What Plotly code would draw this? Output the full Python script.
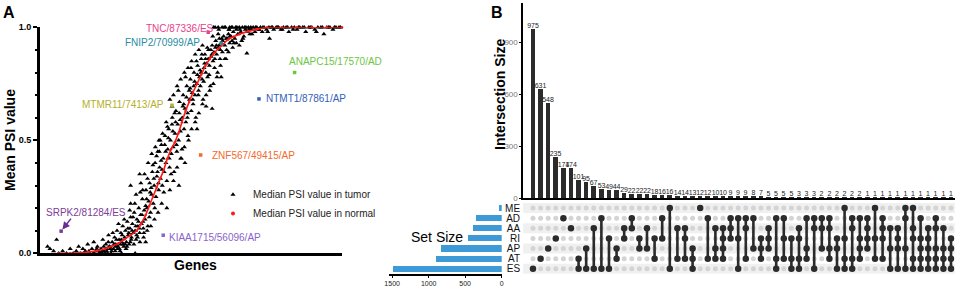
import plotly.graph_objects as go

W, H = 957, 286
FONT = "Arial, Liberation Sans, Helvetica, sans-serif"


def px(x):
    return x / W


def py(y):
    return 1 - y / H


# ---------------- Panel A data ----------------
tumor_gene = [
    25, 33, 45, 55, 62, 75, 88, 100, 110, 120,
    128, 135, 142, 150, 158, 165, 172, 178, 185, 190,
    196, 202, 208, 213, 218, 222, 227, 231, 235, 239,
    243, 247, 251, 255, 258, 262, 265, 268, 271, 274,
    277, 280, 283, 286, 289, 292, 295, 298, 300, 303,
    306, 309, 312, 315, 318, 321, 324, 327, 330, 333,
    336, 339, 342, 345, 348, 351, 354, 357, 360, 363,
    366, 369, 372, 375, 378, 381, 384, 387, 390, 393,
    396, 399, 402, 405, 408, 411, 414, 417, 420, 423,
    426, 429, 432, 435, 438, 441, 444, 447, 450, 453,
    456, 459, 462, 465, 468, 471, 474, 477, 480, 483,
    486, 489, 492, 495, 498, 501, 504, 507, 510, 513,
    516, 519, 522, 525, 528, 531, 534, 537, 540, 543,
    546, 549, 552, 555, 558, 561, 564, 567, 570, 573,
    576, 579, 582, 585, 588, 591, 594, 597, 600, 604,
    608, 612, 616, 620, 624, 628, 632, 636, 640, 645,
    650, 655, 660, 665, 670, 675, 680, 685, 690, 695,
    700, 706, 712, 718, 724, 730, 736, 742, 750, 758,
    766, 774, 782, 790, 798, 806, 815, 824, 833, 842,
    851, 860, 870, 880, 890, 900, 910, 920, 930, 940,
    950, 960, 970, 980, 990,
    201, 211, 221, 226, 233, 241, 249, 253, 260, 266,
    272, 279, 285, 291, 297, 302, 308, 314, 320, 326,
    332, 338, 344, 350, 356, 362, 368, 374, 380, 386,
    392, 398, 404, 410, 416, 422, 428, 434, 440, 446,
    452, 458, 464, 470, 476, 482, 488, 494, 500, 506,
    512, 518, 524, 530, 536, 542, 548, 554, 560, 566,
    572, 578, 584, 590, 596, 602, 610, 618, 626, 634,
    642, 652, 662, 672, 682, 692, 702, 714, 726, 738,
    754, 770, 786, 802, 820, 838, 856, 875, 895, 915,
    935, 955, 975, 995,
    437, 570, 685, 590, 575, 628, 300, 330, 340, 395,
    420, 460, 520, 550, 600, 760, 270, 350, 315, 480,
    148, 162, 176, 188, 205, 216, 229, 245, 257, 269,
    282, 294, 305, 317, 329, 341, 353, 365, 377, 389,
    401, 413, 425, 437, 449, 461, 473, 485, 497, 509,
    521, 533, 545, 557, 569, 581, 593, 605, 617, 629,
    180, 193, 207, 219, 224, 237, 250, 263, 275, 288,
    299, 311, 323, 331, 343, 355, 367, 379, 391, 403,
    300, 318, 334, 346, 358, 370, 382, 394, 406, 418,
    430, 442, 454, 466, 478, 490, 502, 514, 526, 538,
    430, 442, 454, 466, 478, 490, 502, 514, 526, 538,
    550, 562, 574, 586, 598, 612, 624, 638, 650, 668,
    580, 592, 603, 614, 626, 637, 648, 660, 678, 698,
]
tumor_psi = [
    0.03, 0.02, 0.01, 0.06, 0.00, 0.01, 0.00, 0.02, 0.00, 0.01,
    0.03, 0.00, 0.02, 0.01, 0.04, 0.00, 0.02, 0.05, 0.01, 0.03,
    0.00, 0.02, 0.06, 0.01, 0.04, 0.02, 0.08, 0.03, 0.00, 0.05,
    0.02, 0.07, 0.04, 0.10, 0.03, 0.06, 0.01, 0.09, 0.05, 0.12,
    0.03, 0.07, 0.10, 0.05, 0.14, 0.08, 0.04, 0.11, 0.16, 0.07,
    0.13, 0.09, 0.18, 0.10, 0.06, 0.15, 0.12, 0.20, 0.09, 0.17,
    0.13, 0.24, 0.11, 0.19, 0.15, 0.28, 0.20, 0.12, 0.23, 0.31,
    0.18, 0.26, 0.36, 0.22, 0.30, 0.40, 0.25, 0.34, 0.45, 0.28,
    0.38, 0.33, 0.48, 0.30, 0.42, 0.36, 0.52, 0.40, 0.32, 0.46,
    0.55, 0.38, 0.50, 0.44, 0.60, 0.47, 0.36, 0.53, 0.63, 0.45,
    0.57, 0.50, 0.67, 0.54, 0.42, 0.60, 0.70, 0.55, 0.64, 0.58,
    0.74, 0.62, 0.50, 0.68, 0.77, 0.63, 0.71, 0.66, 0.80, 0.70,
    0.60, 0.75, 0.83, 0.72, 0.78, 0.74, 0.86, 0.77, 0.68, 0.82,
    0.88, 0.80, 0.84, 0.78, 0.90, 0.83, 0.74, 0.87, 0.92, 0.85,
    0.89, 0.86, 0.94, 0.88, 0.80, 0.91, 0.95, 0.90, 0.93, 0.89,
    0.96, 0.92, 0.86, 0.95, 0.97, 0.93, 0.96, 0.94, 0.98, 0.95,
    0.99, 0.97, 0.92, 0.98, 1.00, 0.96, 0.99, 0.98, 1.00, 0.97,
    0.99, 1.00, 0.98, 1.00, 0.99, 1.00, 0.98, 1.00, 0.99, 1.00,
    1.00, 0.99, 1.00, 1.00, 0.99, 1.00, 1.00, 0.98, 1.00, 1.00,
    0.99, 1.00, 1.00, 0.98, 1.00, 1.00, 0.99, 1.00, 1.00, 0.97,
    1.00, 1.00, 0.99, 1.00, 1.00,
    0.00, 0.03, 0.01, 0.05, 0.02, 0.09, 0.01, 0.06, 0.13, 0.04,
    0.08, 0.15, 0.02, 0.11, 0.19, 0.06, 0.16, 0.22, 0.08, 0.14,
    0.27, 0.17, 0.09, 0.21, 0.33, 0.16, 0.29, 0.39, 0.20, 0.43,
    0.31, 0.50, 0.37, 0.27, 0.45, 0.56, 0.42, 0.35, 0.54, 0.62,
    0.48, 0.72, 0.59, 0.46, 0.66, 0.78, 0.60, 0.72, 0.82, 0.68,
    0.76, 0.85, 0.70, 0.81, 0.88, 0.76, 0.86, 0.91, 0.79, 0.90,
    0.96, 0.82, 0.92, 0.97, 0.86, 0.95, 1.00, 0.90, 0.99, 1.00,
    0.93, 1.00, 0.99, 0.95, 1.00, 0.99, 0.97, 1.00, 0.99, 1.00,
    0.98, 1.00, 1.00, 0.99, 1.00, 0.99, 1.00, 1.00, 1.00, 0.98,
    1.00, 1.00, 1.00, 1.00,
    0.65, 0.64, 0.885, 1.00, 1.00, 1.00, 0.30, 0.35, 0.28, 0.45,
    0.20, 0.30, 0.55, 0.65, 0.78, 0.95, 0.00, 0.05, 0.00, 0.40,
    0.00, 0.01, 0.00, 0.02, 0.01, 0.00, 0.03, 0.04, 0.02, 0.06,
    0.04, 0.09, 0.10, 0.12, 0.11, 0.14, 0.24, 0.27, 0.33, 0.36,
    0.41, 0.48, 0.51, 0.57, 0.58, 0.62, 0.65, 0.69, 0.73, 0.74,
    0.79, 0.80, 0.84, 0.86, 0.88, 0.91, 0.92, 0.94, 0.95, 0.96,
    0.00, 0.01, 0.00, 0.02, 0.00, 0.01, 0.03, 0.02, 0.04, 0.03,
    0.05, 0.04, 0.07, 0.05, 0.07, 0.10, 0.12, 0.15, 0.18, 0.22,
    0.22, 0.26, 0.31, 0.35, 0.40, 0.44, 0.47, 0.50, 0.53, 0.58,
    0.68, 0.70, 0.74, 0.77, 0.80, 0.82, 0.85, 0.88, 0.90, 0.92,
    0.28, 0.32, 0.38, 0.42, 0.47, 0.52, 0.55, 0.58, 0.62, 0.66,
    0.70, 0.72, 0.75, 0.78, 0.83, 0.86, 0.89, 0.91, 0.93, 0.94,
    1.00, 0.99, 1.00, 1.00, 0.99, 1.00, 1.00, 1.00, 1.00, 1.00,
]

normal_gene = [60, 100, 130, 160, 190, 215, 240, 260, 280, 300,
               320, 335, 350, 362, 374, 386, 398, 410, 422, 434,
               446, 458, 470, 482, 494, 506, 520, 534, 548, 562,
               576, 590, 606, 622, 640, 662, 690, 720, 752, 800,
               850, 900, 950, 1000]
normal_psi = [0.0, 0.0, 0.002, 0.006, 0.012, 0.02, 0.033, 0.045, 0.062, 0.08,
              0.10, 0.13, 0.17, 0.21, 0.25, 0.29, 0.33, 0.37, 0.42, 0.46,
              0.49, 0.53, 0.58, 0.63, 0.67, 0.71, 0.75, 0.79, 0.83, 0.86,
              0.885, 0.905, 0.925, 0.945, 0.958, 0.97, 0.982, 0.992, 1.0, 1.0,
              1.0, 1.0, 1.0, 1.0]

highlight_label = ["TNC/87336/ES", "FNIP2/70999/AP", "ANAPC15/17570/AD", "NTMT1/87861/AP",
                   "MTMR11/7413/AP", "ZNF567/49415/AP", "SRPK2/81284/ES", "KIAA1715/56096/AP"]
highlight_gene = [557, 600, 843, 725, 437, 532, 70, 408]
highlight_psi = [0.978, 0.93, 0.80, 0.683, 0.655, 0.435, 0.098, 0.08]
highlight_color = ["#e8418c", "#2a8ca3", "#6cc644", "#3560b8",
                   "#b5b02a", "#f26a2c", "#7d3c98", "#8b63c9"]
# label text centre positions (pixels)
label_px = [(180, 28), (162, 42), (335, 62), (306, 98),
            (123, 105), (254, 155), (86, 212), (215, 237)]

# ---------------- Panel B data ----------------
set_names = ["ME", "AD", "AA", "RI", "AP", "AT", "ES"]
set_sizes = [47, 356, 403, 471, 836, 900, 1490]

intersection_sizes = [975, 631, 548, 235, 174, 174, 101, 95, 67, 53,
                      49, 44, 29, 22, 22, 22, 18, 16, 16, 14,
                      14, 13, 12, 12, 10, 10, 9, 9, 9, 8,
                      7, 5, 5, 5, 5, 3, 3, 3, 2, 2,
                      2, 2, 2, 2, 1, 1, 1, 1, 1, 1,
                      1, 1, 1, 1, 1, 1]
combos = [
    ["ES"], ["AT"], ["AP"], ["RI"], ["AD"], ["AA"],
    ["AT", "ES"], ["AP", "ES"], ["AA", "ES"], ["AD", "ES"], ["RI", "ES"], ["AP", "AT"],
    ["AA", "RI"], ["AD", "AA"], ["RI", "AP"], ["AA", "AP"], ["RI", "AT"], ["AD", "RI"],
    ["ME", "ES"], ["AA", "AT"], ["AA", "RI", "AT"], ["AP", "AT", "ES"], ["ME"], ["AD", "AT"],
    ["AA", "AP", "AT"], ["AA", "RI", "AP", "AT"], ["AD", "AA", "RI"], ["AD", "RI", "ES"],
    ["AD", "AA", "AT"], ["AD", "AP"], ["RI", "AP", "AT"], ["AA", "RI", "AP"],
    ["AD", "AT", "ES"], ["AD", "RI", "AT"], ["RI", "AT", "ES"], ["AA", "RI", "AT", "ES"],
    ["AD", "AP", "AT"], ["AD", "AA", "ES"], ["AD", "AA", "AP"], ["AD", "AA", "AP", "AT"],
    ["RI", "AP", "ES"], ["ME", "RI", "AT", "ES"], ["AD", "AA", "AT", "ES"], ["AD", "RI", "AP", "AT"],
    ["AD", "AA", "RI", "AP"], ["ME", "RI", "AT"], ["AD", "AA", "RI", "AT"], ["AA", "AP", "ES"],
    ["AA", "RI", "AP", "ES"], ["ME", "AD", "AP", "ES"], ["ME", "AA", "RI", "AT", "ES"],
    ["AD", "RI", "AP", "AT", "ES"], ["AA", "RI", "AP", "AT", "ES"], ["AD", "AA", "AP", "AT", "ES"],
    ["AA", "AP", "AT", "ES"], ["RI", "AP", "AT", "ES"],
]

# ---------------- derived ----------------
n_sets = len(set_names)
row_of = {name: n_sets - 1 - i for i, name in enumerate(set_names)}
cols = list(range(1, len(intersection_sizes) + 1))

grid_x, grid_y = [], []
for c in cols:
    for r in range(n_sets):
        grid_x.append(c)
        grid_y.append(r)

mem_x, mem_y, line_x, line_y = [], [], [], []
for c, combo in zip(cols, combos):
    rows = [row_of[s] for s in combo]
    for r in rows:
        mem_x.append(c)
        mem_y.append(r)
    if len(rows) > 1:
        line_x += [c, c, None]
        line_y += [min(rows), max(rows), None]

fig = go.Figure()

# Panel A traces
fig.add_trace(go.Scatter(
    x=tumor_gene, y=tumor_psi, mode="markers", name="Median PSI value in tumor",
    marker=dict(symbol="triangle-up", size=4.5, color="black"),
    xaxis="x", yaxis="y", cliponaxis=False))
fig.add_trace(go.Scatter(
    x=normal_gene, y=normal_psi, mode="lines+markers", showlegend=False,
    line=dict(color="#ff1a1a", width=1.6, shape="spline"),
    marker=dict(size=2.5, color="#ff1a1a"),
    xaxis="x", yaxis="y", cliponaxis=False))
fig.add_trace(go.Scatter(
    x=[None], y=[None], mode="markers", name="Median PSI value in normal",
    marker=dict(symbol="circle", size=4, color="#ff1a1a"), xaxis="x", yaxis="y"))
fig.add_trace(go.Scatter(
    x=highlight_gene, y=highlight_psi, mode="markers", showlegend=False,
    marker=dict(symbol="square", size=3.5, color=highlight_color),
    xaxis="x", yaxis="y", cliponaxis=False))

# Panel B traces
fig.add_trace(go.Bar(
    x=cols, y=intersection_sizes, text=[str(v) for v in intersection_sizes],
    textposition="outside", textangle=0, constraintext="none",
    textfont=dict(size=7, color="#222", family=FONT),
    marker=dict(color="#2b2b2b", line=dict(width=0)), width=0.62,
    showlegend=False, xaxis="x2", yaxis="y2", cliponaxis=False))
fig.add_trace(go.Scatter(
    x=grid_x, y=grid_y, mode="markers", showlegend=False,
    marker=dict(size=5, color="#d4d4d4"), xaxis="x3", yaxis="y3", hoverinfo="skip"))
fig.add_trace(go.Scatter(
    x=line_x, y=line_y, mode="lines", showlegend=False,
    line=dict(color="#2b2b2b", width=2.6), xaxis="x3", yaxis="y3", hoverinfo="skip"))
fig.add_trace(go.Scatter(
    x=mem_x, y=mem_y, mode="markers", showlegend=False,
    marker=dict(size=6.5, color="#2b2b2b"), xaxis="x3", yaxis="y3"))
fig.add_trace(go.Bar(
    x=set_sizes, y=[row_of[s] for s in set_names], orientation="h",
    marker=dict(color="#3d9ad6", line=dict(width=0)), width=0.6,
    showlegend=False, xaxis="x4", yaxis="y4"))

# background stripes in matrix
shapes = []
for r in range(0, n_sets, 2):
    shapes.append(dict(type="rect", xref="x3 domain", yref="y3", x0=0, x1=1,
                       y0=r - 0.5, y1=r + 0.5, fillcolor="#f0f0f0",
                       line=dict(width=0), layer="below"))


def note(x, y, text, size, color="black", angle=0):
    return dict(xref="paper", yref="paper", x=px(x), y=py(y), text=text,
                showarrow=False, xanchor="center", yanchor="middle",
                textangle=angle, font=dict(size=size, color=color, family=FONT))


annotations = []
for lab, col, (lx, ly) in zip(highlight_label, highlight_color, label_px):
    annotations.append(note(lx, ly, lab, 10, col))
# arrow for SRPK2
annotations.append(dict(xref="x", yref="y", x=highlight_gene[6], y=highlight_psi[6],
                        ax=11, ay=-14, text="", showarrow=True, arrowhead=2,
                        arrowsize=1, arrowwidth=1.5, arrowcolor="#6a2c91", standoff=2))
annotations += [
    note(9, 13, "<b>A</b>", 16),
    note(497, 13, "<b>B</b>", 16),
    note(10, 140, "<b>Mean PSI value</b>", 14, angle=-90),
    note(195, 265, "<b>Genes</b>", 14),
    note(500, 95, "<b>Intersection Size</b>", 14, angle=-90),
    note(437, 237, "Set Size", 14),
]

fig.update_layout(
    width=W, height=H, margin=dict(l=0, r=0, t=0, b=0, pad=0, autoexpand=False),
    paper_bgcolor="white", plot_bgcolor="white",
    font=dict(family=FONT, color="black"),
    showlegend=True,
    legend=dict(x=px(213), y=py(180), xanchor="left", yanchor="top",
                font=dict(size=10, color="#222", family=FONT),
                bgcolor="rgba(0,0,0,0)", itemwidth=30, tracegroupgap=0),
    bargap=0,
    shapes=shapes,
    annotations=annotations,
    xaxis=dict(domain=[px(40), px(342)], range=[0, 1000], anchor="y", automargin=False,
               showline=True, linewidth=3, linecolor="black", showgrid=False,
               zeroline=False, showticklabels=False, ticks=""),
    yaxis=dict(domain=[py(253.3), py(27.3)], range=[0, 1], anchor="x", automargin=False,
               showline=True, linewidth=3, linecolor="black", showgrid=False,
               zeroline=False, tickvals=[0, 0.5, 1], ticktext=["0.0", "0.5", "1.0"],
               ticks="outside", ticklen=4, tickwidth=2, tickcolor="black",
               tickfont=dict(size=9, color="black", family=FONT, weight="bold"),
               minor=dict(dtick=0.1, ticks="outside", ticklen=2, tickwidth=1.5,
                          tickcolor="black")),
    xaxis2=dict(domain=[px(523.1), px(954.8)], range=[-0.3, 56.5], anchor="y2",
                automargin=False,
                showline=True, linewidth=2, linecolor="black", showgrid=False,
                zeroline=False, showticklabels=False, ticks=""),
    yaxis2=dict(domain=[py(198), py(3)], range=[0, 1125], anchor="x2", automargin=False,
                showline=True, linewidth=1.5, linecolor="black", showgrid=False,
                zeroline=False, tickvals=[0, 300, 600, 900], ticks="outside",
                ticklen=2, tickwidth=1, tickcolor="black",
                tickfont=dict(size=8, color="#777", family=FONT)),
    xaxis3=dict(domain=[px(523.1), px(954.8)], range=[-0.3, 56.5], anchor="y3",
                automargin=False,
                showline=False, showgrid=False, zeroline=False,
                showticklabels=False, ticks=""),
    yaxis3=dict(domain=[py(273.8), py(203)], range=[-0.5, 6.5], anchor="x3",
                automargin=False,
                showline=False, showgrid=False, zeroline=False,
                tickvals=[row_of[s] for s in set_names], ticktext=set_names,
                tickfont=dict(size=10, color="#111", family=FONT), ticks="",
                ticklabelstandoff=2),
    xaxis4=dict(domain=[px(388.5), px(501.7)], range=[1550, 0], anchor="y4",
                automargin=False,
                showline=True, linewidth=1.5, linecolor="black", showgrid=False,
                zeroline=False, tickvals=[0, 500, 1000, 1500], ticks="outside",
                ticklen=2, tickwidth=1, tickcolor="black",
                tickfont=dict(size=7, color="#222", family=FONT)),
    yaxis4=dict(domain=[py(273.8), py(203)], range=[-0.5, 6.5], anchor="x4",
                automargin=False,
                showline=False, showgrid=False, zeroline=False,
                showticklabels=False, ticks=""),
)

fig.write_html("out.html", config={"displayModeBar": False},
               post_script="document.body.style.margin='0';document.body.style.padding='0';document.body.style.overflow='hidden';")
